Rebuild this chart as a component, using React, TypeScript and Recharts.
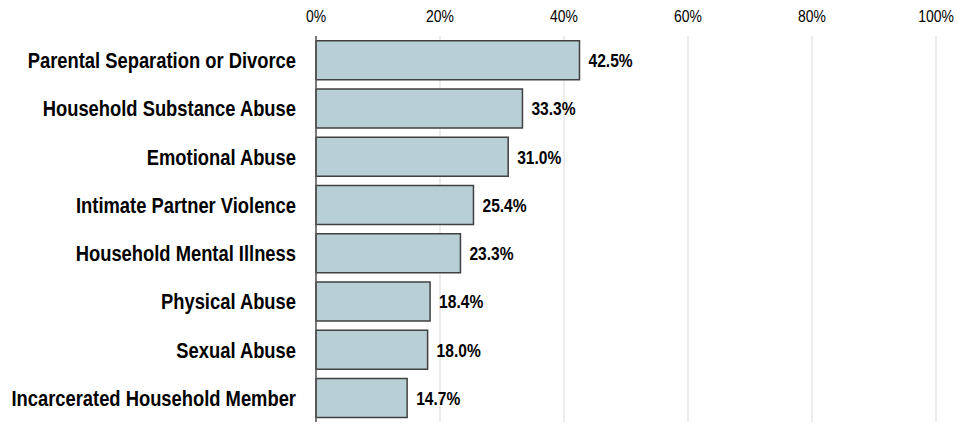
import { BarChart, Bar, XAxis, YAxis, CartesianGrid, LabelList } from "recharts";

const categories = [
  "Parental Separation or Divorce",
  "Household Substance Abuse",
  "Emotional Abuse",
  "Intimate Partner Violence",
  "Household Mental Illness",
  "Physical Abuse",
  "Sexual Abuse",
  "Incarcerated Household Member",
];
const percents = [42.5, 33.3, 31.0, 25.4, 23.3, 18.4, 18.0, 14.7];
const xTicks = [0, 20, 40, 60, 80, 100];

const data = categories.map((name, i) => ({ name, value: percents[i] }));

const font = "'Liberation Sans', Arial, sans-serif";
// no Arial Narrow here, so squeeze Liberation Sans horizontally
const NARROW = 0.82;

function NarrowText({ x, y, anchor, size, weight, text, dy }: any) {
  return (
    <text
      transform={`translate(${x},${y}) scale(${NARROW},1)`}
      textAnchor={anchor}
      dy={dy}
      fontSize={size}
      fontWeight={weight}
      fontFamily={font}
      fill="#000"
    >
      {text}
    </text>
  );
}

function YTick({ x, y, payload }: any) {
  return <NarrowText x={x} y={y} anchor="end" size={22.4} weight="bold" text={payload.value} dy="0.36em" />;
}

function XTick({ x, y, payload }: any) {
  return <NarrowText x={x} y={y} anchor="middle" size={17} weight="normal" text={`${payload.value}%`} dy="-0.1em" />;
}

function ValueLabel({ x, y, width, height, value }: any) {
  return (
    <NarrowText
      x={x + width + 9}
      y={y + height / 2}
      anchor="start"
      size={19}
      weight="bold"
      text={`${Number(value).toFixed(1)}%`}
      dy="0.36em"
    />
  );
}

export default function App() {
  return (
    <div style={{ position: "absolute", left: 0, top: 0 }}>
      <BarChart
        width={957}
        height={424}
        data={data}
        layout="vertical"
        margin={{ top: 0, right: 21, left: 0, bottom: 2 }}
        barCategoryGap="10%"
      >
        <CartesianGrid horizontal={false} stroke="#d9d9d9" strokeWidth={1} />
        <XAxis
          type="number"
          orientation="top"
          domain={[0, 100]}
          ticks={xTicks}
          axisLine={false}
          tickLine={false}
          tickSize={0}
          tickMargin={12}
          height={36}
          tick={<XTick />}
        />
        <YAxis
          type="category"
          dataKey="name"
          width={316}
          axisLine={{ stroke: "#555", strokeWidth: 1.5 }}
          tickLine={false}
          tickSize={0}
          tickMargin={20}
          tick={<YTick />}
        />
        <Bar
          dataKey="value"
          fill="#b7cfd5"
          stroke="#404040"
          strokeWidth={1.5}
          isAnimationActive={false}
        >
          <LabelList dataKey="value" content={<ValueLabel />} />
        </Bar>
      </BarChart>
    </div>
  );
}
